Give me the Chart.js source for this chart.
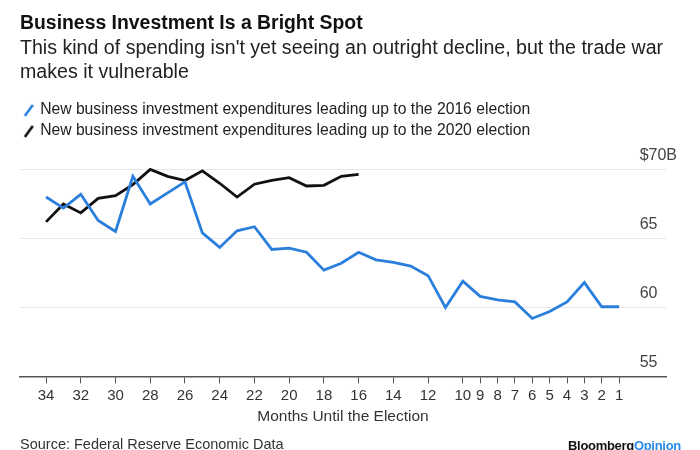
<!DOCTYPE html>
<html>
<head>
<meta charset="utf-8">
<script src="https://cdn.jsdelivr.net/npm/chart.js@4/dist/chart.umd.min.js"></script>
<style>
  html, body { margin: 0; padding: 0; background: #fff; }
  #wrap { position: relative; width: 700px; height: 450px; overflow: hidden; }
  canvas { display: block; }
  .foot { position: absolute; font-family: "Liberation Sans", Arial, sans-serif; white-space: nowrap; }
  #src { left: 20px; top: 436px; font-size: 14.5px; color: #333; }
  #logo { left: 568px; top: 438px; font-size: 13px; font-weight: bold; color: #111; letter-spacing: -0.3px; }
  #logo span { color: #2a8be8; }
</style>
</head>
<body>
<div id="wrap">
  <canvas id="c" width="700" height="450"></canvas>
  <div class="foot" id="src">Source: Federal Reserve Economic Data</div>
  <div class="foot" id="logo">Bloomberg<span>Opinion</span></div>
</div>
<script>
// ---- data ----
const months = [34,33,32,31,30,29,28,27,26,25,24,23,22,21,20,19,18,17,16,15,14,13,12,11,10,9,8,7,6,5,4,3,2,1];
const values2016 = [68.0,67.2,68.2,66.3,65.5,69.5,67.5,68.3,69.1,65.4,64.35,65.55,65.85,64.2,64.3,64.0,62.7,63.2,64.0,63.45,63.26,63.0,62.3,60.0,61.9,60.8,60.55,60.4,59.2,59.7,60.4,61.8,60.05,60.05];
const values2020 = [66.2,67.5,66.85,67.9,68.1,68.9,70.0,69.5,69.2,69.9,69.0,68.0,68.93,69.2,69.4,68.8,68.85,69.5,69.65];
const xTickMonths = [34,32,30,28,26,24,22,20,18,16,14,12,10,9,8,7,6,5,4,3,2,1];
const yTickValues = [55,60,65,70];
const seriesLabels = [
  'New business investment expenditures leading up to the 2016 election',
  'New business investment expenditures leading up to the 2020 election'
];

const BLUE = '#2a7fdc';
const BLACK = '#111111';

function slashIcon(color) {
  const c = document.createElement('canvas');
  c.width = 12; c.height = 14;
  const g = c.getContext('2d');
  g.strokeStyle = color; g.lineWidth = 2.6; g.lineCap = 'butt';
  g.beginPath(); g.moveTo(2, 13); g.lineTo(10, 2); g.stroke();
  return c;
}

function toPoints(vals) {
  return vals.map((v, i) => ({ x: months[i], y: v }));
}

const FONT = '"Liberation Sans", Arial, sans-serif';

new Chart(document.getElementById('c'), {
  type: 'line',
  data: {
    datasets: [
      { label: seriesLabels[0], data: toPoints(values2016), borderColor: BLUE, backgroundColor: BLUE,
        borderWidth: 2.8, pointRadius: 0, tension: 0, pointStyle: slashIcon(BLUE) },
      { label: seriesLabels[1], data: toPoints(values2020), borderColor: BLACK, backgroundColor: BLACK,
        borderWidth: 2.8, pointRadius: 0, tension: 0, pointStyle: slashIcon(BLACK) }
    ]
  },
  options: {
    responsive: false,
    animation: false,
    layout: { padding: { left: 20, right: 34, top: 0, bottom: 24 } },
    plugins: {
      title: {
        display: true, align: 'start', text: 'Business Investment Is a Bright Spot',
        color: '#111', font: { family: FONT, size: 19.4, weight: 'bold', lineHeight: 0.9 },
        padding: { top: 15, bottom: 0 }
      },
      subtitle: {
        display: true, align: 'start',
        text: ["This kind of spending isn't yet seeing an outright decline, but the trade war", 'makes it vulnerable'],
        color: '#222', font: { family: FONT, size: 19.6, lineHeight: 1.2245 },
        padding: { top: 4, bottom: 12.3 }
      },
      legend: {
        display: true, position: 'top', align: 'start',
        labels: { usePointStyle: true, color: '#222', font: { family: FONT, size: 15.7 }, padding: 5.3, boxWidth: 7 }
      },
      tooltip: { enabled: false }
    },
    scales: {
      x: {
        type: 'linear', reverse: true, min: -1.7, max: 35.5,
        afterBuildTicks: (axis) => { axis.ticks = xTickMonths.map(v => ({ value: v })); },
        ticks: { color: '#333', font: { family: FONT, size: 15 }, padding: 3, maxRotation: 0, autoSkip: false,
                 callback: (v) => String(v) },
        grid: { drawOnChartArea: false, drawTicks: true, tickLength: 7, color: '#555', lineWidth: 1 },
        border: { display: true, color: '#555', width: 1.5 },
        title: { display: true, text: 'Months Until the Election', color: '#333', font: { family: FONT, size: 15.5 }, padding: { top: 0, bottom: 0 } }
      },
      y: {
        position: 'right', min: 55, max: 71.5,
        afterBuildTicks: (axis) => { axis.ticks = yTickValues.map(v => ({ value: v })); },
        afterFit: (axis) => { axis.width = 0; },
        ticks: { mirror: true, crossAlign: 'far', padding: 11, labelOffset: -14, color: '#444',
                 font: { family: FONT, size: 16 },
                 callback: (v) => v === 70 ? '$70B' : String(v) },
        grid: { drawTicks: false, color: '#e6e6e6', lineWidth: 1 },
        border: { display: false }
      }
    }
  }
});
</script>
</body>
</html>
